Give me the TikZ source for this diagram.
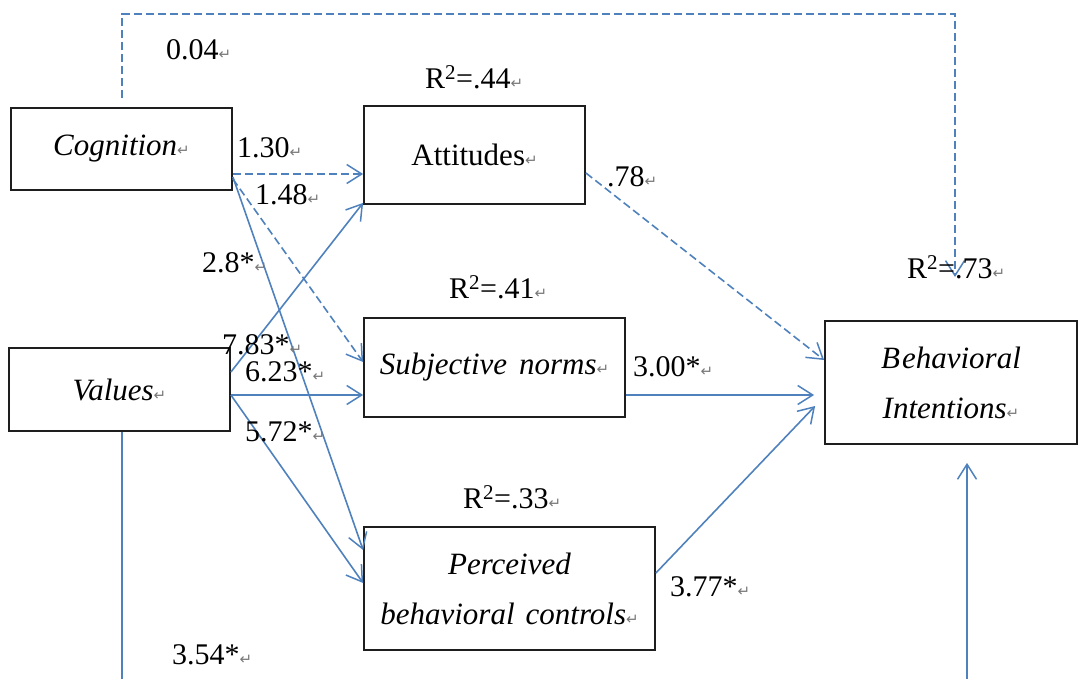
\documentclass[tikz,border=0pt]{standalone}
\usepackage{fontspec}
\setmainfont{Liberation Serif}
\newfontfamily\dejavu{DejaVu Sans}
\usetikzlibrary{arrows.meta}
\definecolor{lnblue}{RGB}{79,129,189}
\definecolor{retgray}{RGB}{120,120,120}
\definecolor{boxc}{RGB}{30,30,30}
\newcommand{\retmark}{{\color{retgray}\dejavu\fontsize{15}{15}\selectfont ↵}}
\begin{document}
\begin{tikzpicture}[x=1pt,y=-1pt,
  box/.style={draw=boxc, line width=1.8pt, font=\fontsize{31}{50}\selectfont, align=center, inner sep=0pt},
  lab/.style={font=\fontsize{30}{36}\selectfont, inner sep=0pt, anchor=west},
  conn/.style={draw=lnblue, line width=1.6pt, -{Straight Barb[length=15pt,width=19pt,line width=1.5pt]}},
  plain/.style={draw=lnblue, line width=1.6pt},
  dsh/.style={dash pattern=on 8pt off 4pt}
]
\useasboundingbox (0,0) rectangle (1078,679);

% boxes
\node[box, minimum width=221pt, minimum height=82pt] (cog) at (121.5,149) {\textit{Cognition}\retmark};
\node[box, minimum width=221pt, minimum height=98pt] (att) at (474.5,155) {Attitudes\retmark};
\node[box, minimum width=221pt, minimum height=83pt] (val) at (119.5,389.5) {\textit{Values}\retmark};
\node[box, minimum width=261pt, minimum height=99pt] (sn) at (494.5,367.5) {\textit{Subjective\hspace{12pt}norms}\retmark};
\node[box, minimum width=291pt, minimum height=123pt] (pbc) at (509.5,588.5) {\textit{Perceived}\\\textit{behavioral\hspace{11pt}controls}\retmark};
\node[box, minimum width=252pt, minimum height=123pt] (bi) at (951,382.5) {\textit{B\hspace{2pt}ehavioral}\\\textit{Intentions}\retmark};

% free-end coordinates
\coordinate (topR) at (955,14);
\coordinate (r2end) at (955,277);
\coordinate (valdown) at (122,679);
\coordinate (bibot) at (967,679);

% top dashed path Cognition -> Behavioral Intentions
\draw[conn,dsh] ([xshift=0.5pt,yshift=9pt]cog.north) |- (topR) -- (r2end);

% Cognition paths
\coordinate (c1) at ([yshift=-25pt]cog.east);
\draw[conn,dsh] (c1) -- (c1 -| att.west);
\draw[conn,dsh] ([yshift=-30pt]cog.east) -- ([yshift=5.5pt]sn.west);
\draw[conn] ([yshift=-28pt]cog.east) -- ([yshift=38.5pt]pbc.west);

% Values paths
\draw[conn] ([yshift=17.5pt]val.east) -- ([yshift=2pt]att.south west);
\coordinate (v2) at ([yshift=-5.5pt]val.east);
\draw[conn] (v2) -- (v2 -| sn.west);
\draw[conn] (v2) -- ([yshift=5.5pt]pbc.west);
\draw[plain] ([xshift=2.5pt]val.south) -- (valdown);

% to Behavioral Intentions
\draw[conn,dsh] ([yshift=-18pt]att.east) -- ([yshift=22.5pt]bi.west);
\draw[conn] ([yshift=-27.5pt]sn.east) -- ([xshift=-10pt,yshift=-12.5pt]bi.west);
\draw[conn] ([yshift=15.5pt]pbc.east) -- ([xshift=-9pt,yshift=-23.5pt]bi.west);
\draw[conn] (bibot) -- ([xshift=16pt,yshift=-18pt]bi.south);

% labels
\node[lab] (l004) at (166,50) {0.04\retmark};
\node[lab] (l130) at (237,148) {1.30\retmark};
\node[lab] (l148) at (255,195) {1.48\retmark};
\node[lab] (l28) at (202,263) {2.8*\retmark};
\node[lab] (l78) at (607,177) {.78\retmark};
\node[lab] (l783) at (222,345) {7.83*\retmark};
\node[lab] (l623) at (245,372) {6.23*\retmark};
\node[lab] (l572) at (245,432) {5.72*\retmark};
\node[lab] (l300) at (633,367) {3.00*\retmark};
\node[lab] (l377) at (670,587) {3.77*\retmark};
\node[lab] (l354) at (172,655) {3.54*\retmark};

\node[lab] (r44) at (425,77) {R\textsuperscript{2}=.44\retmark};
\node[lab] (r41) at (449,287) {R\textsuperscript{2}=.41\retmark};
\node[lab] (r33) at (463,497) {R\textsuperscript{2}=.33\retmark};
\node[lab] (r73) at (907,267) {R\textsuperscript{2}=.73\retmark};
\end{tikzpicture}
\end{document}
